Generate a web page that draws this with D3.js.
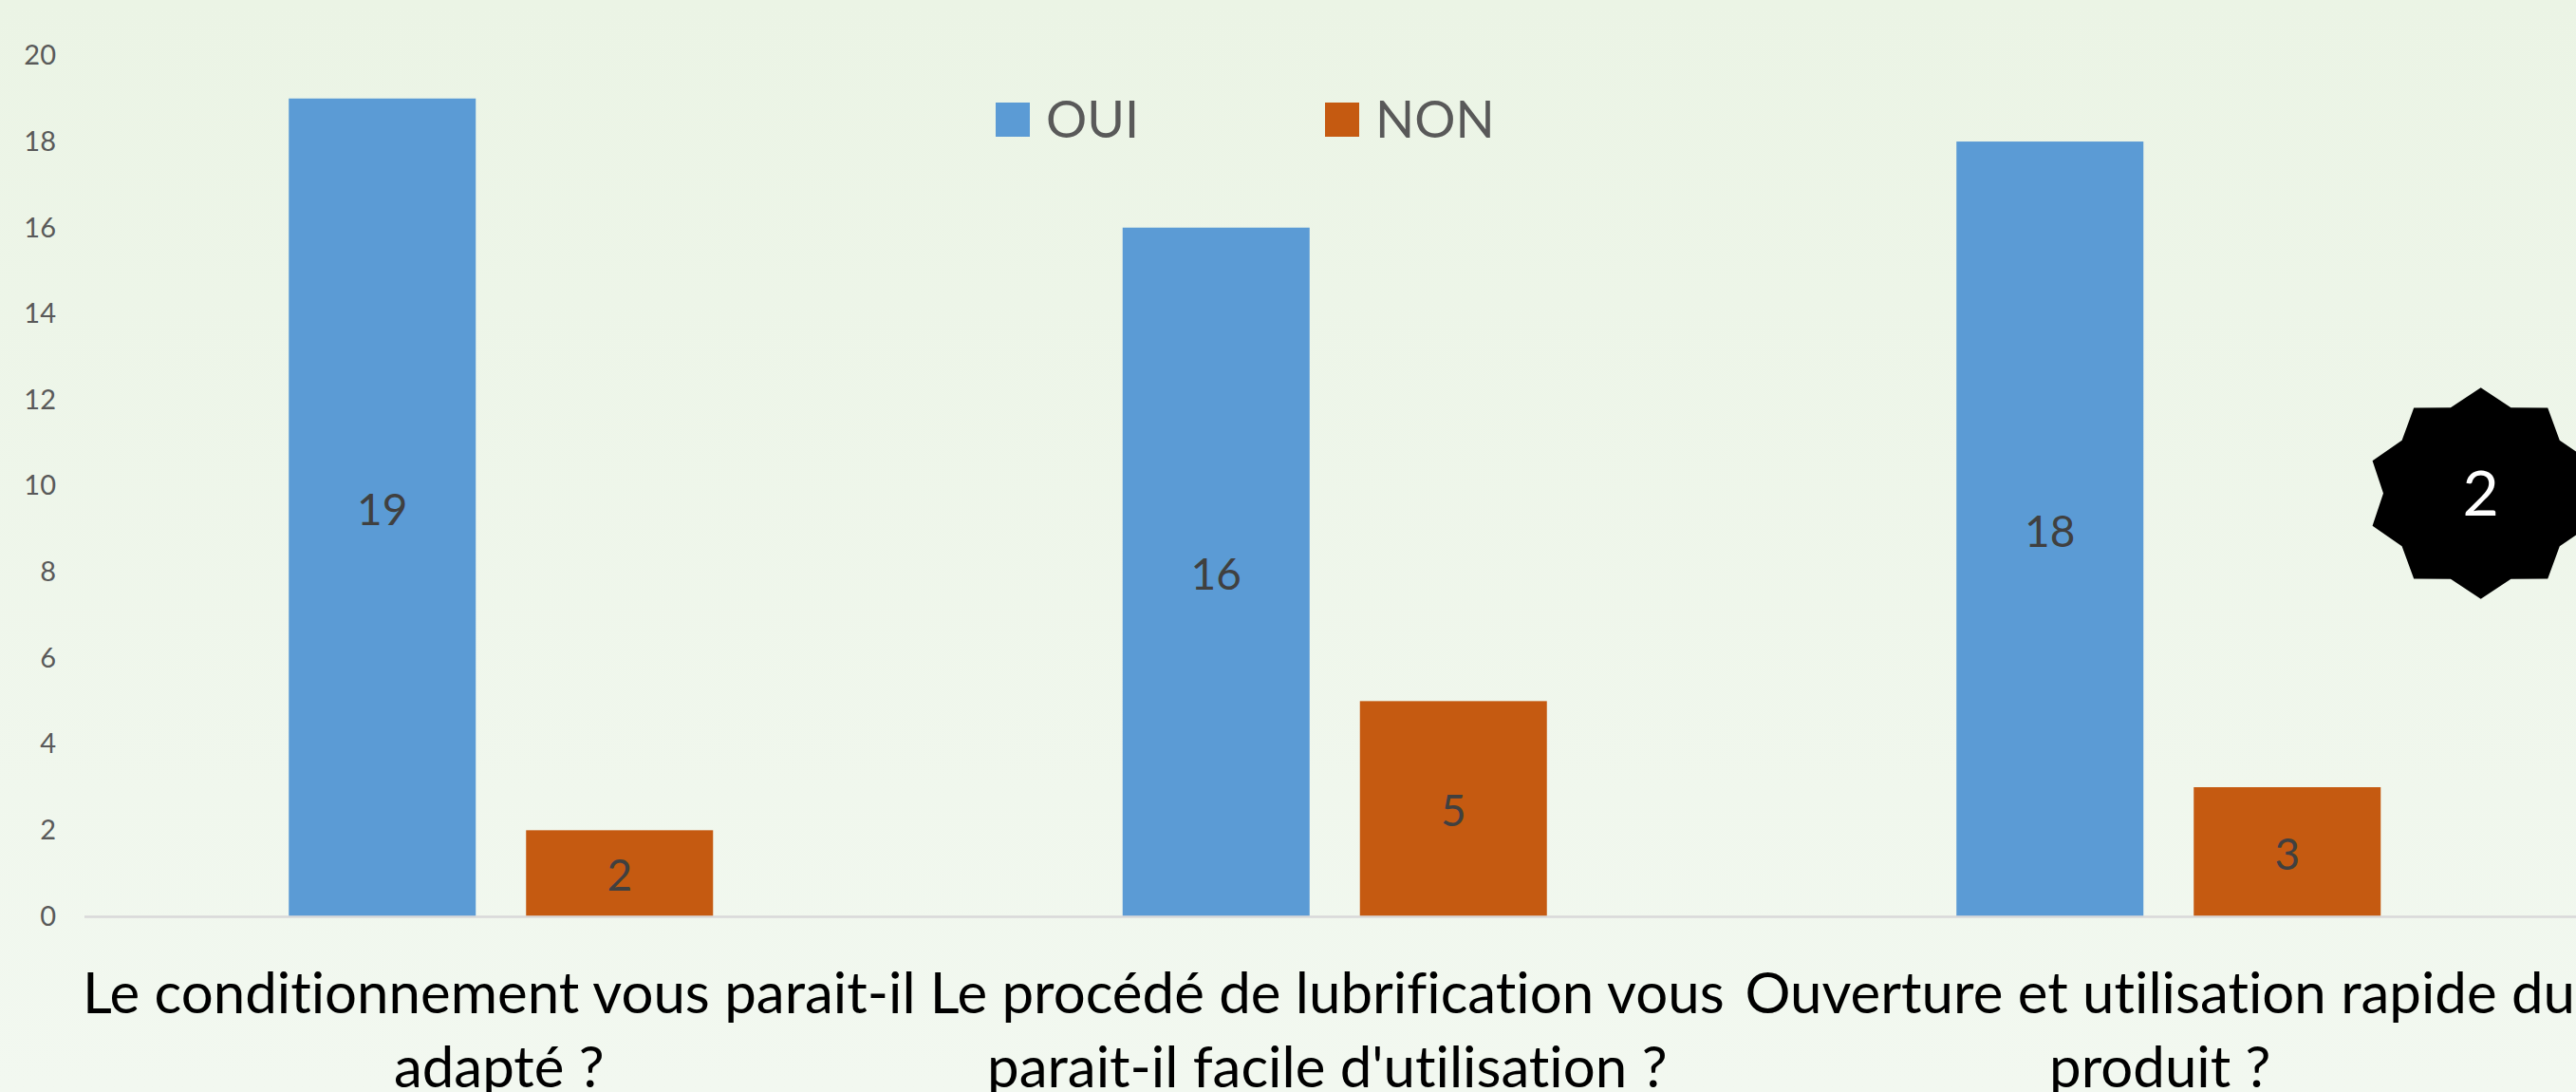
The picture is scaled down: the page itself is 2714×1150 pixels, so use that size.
<!DOCTYPE html>
<html>
<head>
<meta charset="utf-8">
<script src="https://cdnjs.cloudflare.com/ajax/libs/d3/7.8.5/d3.min.js"></script>
<style>
html, body { margin: 0; padding: 0; overflow: hidden; }
svg { display: block; font-family: Lato, "Noto Sans", sans-serif; font-variant-ligatures: none; }
</style>
</head>
<body>
<svg id="chart" width="2714" height="1150"></svg>
<script>
var categories = [
    "Le conditionnement vous parait-il|adapté ?",
    "Le procédé de lubrification vous|parait-il facile d'utilisation ?",
    "Ouverture et utilisation rapide du|produit ?"
];
var seriesNames = ["OUI", "NON"];
var seriesColors = ["#5b9bd5", "#c55a11"];
var oui = [19, 16, 18];
var non = [2, 5, 3];
var yTicks = [0, 2, 4, 6, 8, 10, 12, 14, 16, 18, 20];
var badgeLabel = "2";

var svg = d3.select("#chart");
var defs = svg.append("defs");
var grad = defs.append("linearGradient").attr("id", "bg").attr("x1", 0).attr("y1", 0).attr("x2", 0).attr("y2", 1);
grad.append("stop").attr("offset", "0%").attr("stop-color", "#ebf4e5");
grad.append("stop").attr("offset", "100%").attr("stop-color", "#f2f8f0");
svg.append("rect").attr("width", 2714).attr("height", 1150).attr("fill", "url(#bg)");

var x = d3.scaleBand().domain(categories).range([88.5, 2724]);
var xInner = d3.scaleBand().domain(seriesNames).range([0, x.bandwidth()]).paddingInner(0.212).paddingOuter(0.863);
var y = d3.scaleLinear().domain([0, 20]).range([965, 58.4]);

// y axis
var yAxis = svg.append("g").attr("transform", "translate(70,0)")
    .call(d3.axisLeft(y).tickValues(yTicks).tickSize(0).tickPadding(11));
yAxis.select(".domain").remove();
yAxis.selectAll("text").attr("font-size", "29px").attr("font-family", "Lato").attr("fill", "#595959");

// bars
var allValues = [oui, non];
seriesNames.forEach(function (name, s) {
    var g = svg.append("g").attr("fill", seriesColors[s]);
    g.selectAll("rect").data(allValues[s]).enter().append("rect")
        .attr("x", function (d, i) { return x(categories[i]) + xInner(name); })
        .attr("y", function (d) { return y(d); })
        .attr("width", xInner.bandwidth())
        .attr("height", function (d) { return y(0) - y(d); });
    svg.append("g").selectAll("text").data(allValues[s]).enter().append("text")
        .attr("x", function (d, i) { return x(categories[i]) + xInner(name) + xInner.bandwidth() / 2; })
        .attr("y", function (d) { return (y(d) + y(0)) / 2 + 2; })
        .attr("dy", "0.36em")
        .attr("text-anchor", "middle")
        .attr("font-size", "46px")
        .attr("fill", "#404040")
        .text(function (d) { return d; });
});

// x axis, labels are on two lines and sit a little left of the bars
var labelShift = [-2, -8, -9];
var xAxis = svg.append("g").attr("transform", "translate(0," + y(0) + ")")
    .call(d3.axisBottom(x).tickSize(0).tickFormat(""));
xAxis.select(".domain").attr("stroke", "#d9d9d9").attr("stroke-width", 2.5);
xAxis.selectAll(".tick text").each(function (d, n) {
    var t = d3.select(this).attr("y", 0).attr("dy", null).attr("font-size", "60px").attr("font-family", "Lato").attr("fill", "#000");
    d.split("|").forEach(function (line, i) {
        t.append("tspan").attr("x", labelShift[n]).attr("y", 102 + i * 78).text(line);
    });
});

// legend
var legendX = [1049, 1396];
seriesNames.forEach(function (name, s) {
    svg.append("rect").attr("x", legendX[s]).attr("y", 108).attr("width", 36).attr("height", 36).attr("fill", seriesColors[s]);
    svg.append("text").attr("x", legendX[s] + 53).attr("y", 145)
        .attr("font-size", "54px").attr("fill", "#595959").text(name);
});

// numbered badge
var starPts = d3.range(20).map(function (i) {
    var a = Math.PI / 2 + i * Math.PI / 10;
    var outer = i % 2 === 0;
    return [(outer ? 120 : 102.7) * Math.cos(a), -(outer ? 111.2 : 95) * Math.sin(a)];
});
var badge = svg.append("g").attr("transform", "translate(2613.7,519.5)");
badge.append("path").attr("d", d3.line().curve(d3.curveLinearClosed)(starPts)).attr("fill", "#000");
badge.append("text").attr("text-anchor", "middle").attr("dy", "0.36em")
    .attr("font-size", "66px").attr("fill", "#fff").text(badgeLabel);
</script>
</body>
</html>
